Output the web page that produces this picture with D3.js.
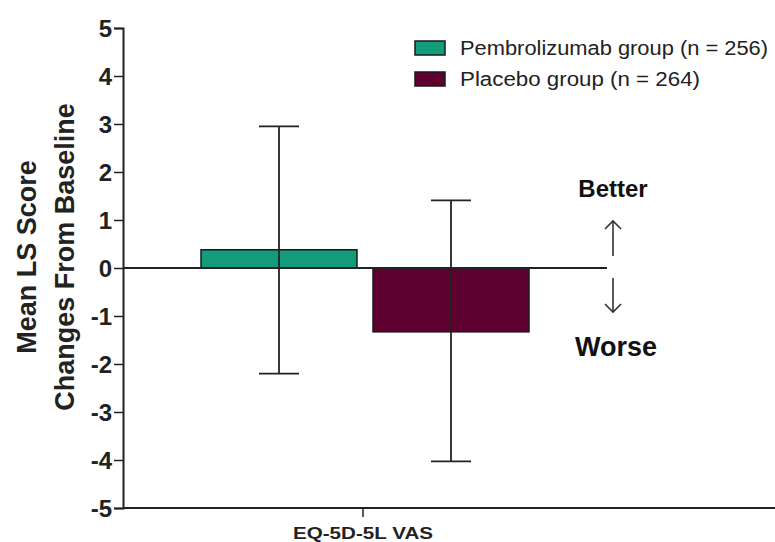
<!DOCTYPE html>
<html>
<head>
<meta charset="utf-8">
<script src="https://cdn.jsdelivr.net/npm/d3@7"></script>
<style>
  body { margin: 0; background: #fff; }
  svg { display: block; font-family: "Liberation Sans", Arial, sans-serif; }
</style>
</head>
<body>
<svg id="chart" width="775" height="542"></svg>
<script>
// Mean LS change from baseline, EQ-5D-5L VAS, with 95% CI
const groups = ["Pembrolizumab group (n = 256)", "Placebo group (n = 264)"];
const means = [0.38, -1.33];
const ciLow = [-2.2, -4.03];
const ciHigh = [2.95, 1.41];
const colors = ["#129c7c", "#5e0030"];
const yTicks = [5, 4, 3, 2, 1, 0, -1, -2, -3, -4, -5];
const category = "EQ-5D-5L VAS";

const svg = d3.select("#chart");
const x0 = 123, x1 = 775, yTop = 28, yBot = 508;

const y = d3.scaleLinear().domain([-5, 5]).range([yBot, yTop]);
const x = d3.scaleBand().domain(groups).range([201, 529]).paddingInner(0.093).paddingOuter(0);

// y axis
const yAxis = d3.axisLeft(y).tickValues(yTicks).tickSize(9).tickPadding(2).tickFormat(d => String(d));
const gy = svg.append("g").attr("transform", `translate(${x0},0)`).call(yAxis);
gy.attr("font-family", null).attr("font-size", null);
gy.select(".domain").attr("stroke", "#222").attr("stroke-width", 2);
gy.selectAll(".tick line").attr("stroke", "#222").attr("stroke-width", 1.5);
gy.selectAll(".tick text").attr("font-size", 24).attr("fill", "#222").attr("font-weight", "bold")
  .attr("dy", "0.36em");

// x axis at the bottom
const xc = d3.scaleBand().domain([category]).range([x0, 603]);
const xAxis = d3.axisBottom(xc).tickSize(9).tickPadding(6);
const gx = svg.append("g").attr("transform", `translate(0,${yBot})`).call(xAxis);
gx.attr("font-family", null).attr("font-size", null);
gx.select(".domain").attr("d", `M${x0},0H${x1}`).attr("stroke", "#222").attr("stroke-width", 2);
gx.selectAll(".tick line").attr("stroke", "#222").attr("stroke-width", 1.5);
gx.selectAll(".tick text").attr("font-size", 17).attr("font-weight", "bold").attr("fill", "#222")
  .attr("y", 31).attr("dy", null)
  .attr("textLength", 140).attr("lengthAdjust", "spacingAndGlyphs");

// bars
svg.append("g").selectAll("rect").data(groups).join("rect")
  .attr("x", d => x(d))
  .attr("width", x.bandwidth())
  .attr("y", (d, i) => y(Math.max(0, means[i])))
  .attr("height", (d, i) => Math.abs(y(means[i]) - y(0)))
  .attr("fill", (d, i) => colors[i])
  .attr("stroke", "#1a1a1a").attr("stroke-width", 1.5);

// zero line
svg.append("line").attr("x1", x0).attr("x2", 607).attr("y1", y(0)).attr("y2", y(0))
  .attr("stroke", "#222").attr("stroke-width", 2);

// error bars
const eb = svg.append("g").selectAll("g").data(groups).join("g")
  .attr("stroke", "#222").attr("stroke-width", 1.8);
eb.append("line")
  .attr("x1", d => x(d) + x.bandwidth() / 2).attr("x2", d => x(d) + x.bandwidth() / 2)
  .attr("y1", (d, i) => y(ciHigh[i])).attr("y2", (d, i) => y(ciLow[i]));
[ciHigh, ciLow].forEach(arr => {
  eb.append("line")
    .attr("x1", d => x(d) + x.bandwidth() / 2 - 20).attr("x2", d => x(d) + x.bandwidth() / 2 + 20)
    .attr("y1", (d, i) => y(arr[i])).attr("y2", (d, i) => y(arr[i]));
});

// y axis title
const yt = svg.append("text")
  .attr("transform", `translate(0,257) rotate(-90)`)
  .attr("text-anchor", "middle").attr("font-weight", "bold").attr("font-size", 27).attr("fill", "#222");
yt.append("tspan").attr("x", 0).attr("y", 36).text("Mean LS Score");
yt.append("tspan").attr("x", 0).attr("y", 74).text("Changes From Baseline");

// legend
const legendLen = [308, 240];
const lg = svg.append("g").selectAll("g").data(groups).join("g")
  .attr("transform", (d, i) => `translate(415,${41 + i * 31})`);
lg.append("rect").attr("width", 30).attr("height", 14)
  .attr("fill", (d, i) => colors[i]).attr("stroke", "#1a1a1a").attr("stroke-width", 1.5);
lg.append("text").attr("x", 45).attr("y", 14).attr("font-size", 20).attr("fill", "#222")
  .attr("textLength", (d, i) => legendLen[i]).attr("lengthAdjust", "spacingAndGlyphs")
  .text(d => d);

// better / worse annotation
const ax = 613;
svg.append("text").attr("x", ax).attr("y", 197).attr("text-anchor", "middle")
  .attr("font-size", 24).attr("font-weight", "bold").attr("fill", "#111").text("Better");
svg.append("text").attr("x", ax + 3).attr("y", 356).attr("text-anchor", "middle")
  .attr("font-size", 27).attr("font-weight", "bold").attr("fill", "#111").text("Worse");
const arr = svg.append("g").attr("stroke", "#333").attr("stroke-width", 1.6).attr("fill", "none");
arr.append("line").attr("x1", ax).attr("x2", ax).attr("y1", 221).attr("y2", 256);
arr.append("path").attr("d", `M${ax - 8},229L${ax},221L${ax + 8},229`);
arr.append("line").attr("x1", ax).attr("x2", ax).attr("y1", 278).attr("y2", 312);
arr.append("path").attr("d", `M${ax - 8},304L${ax},312L${ax + 8},304`);
</script>
</body>
</html>
